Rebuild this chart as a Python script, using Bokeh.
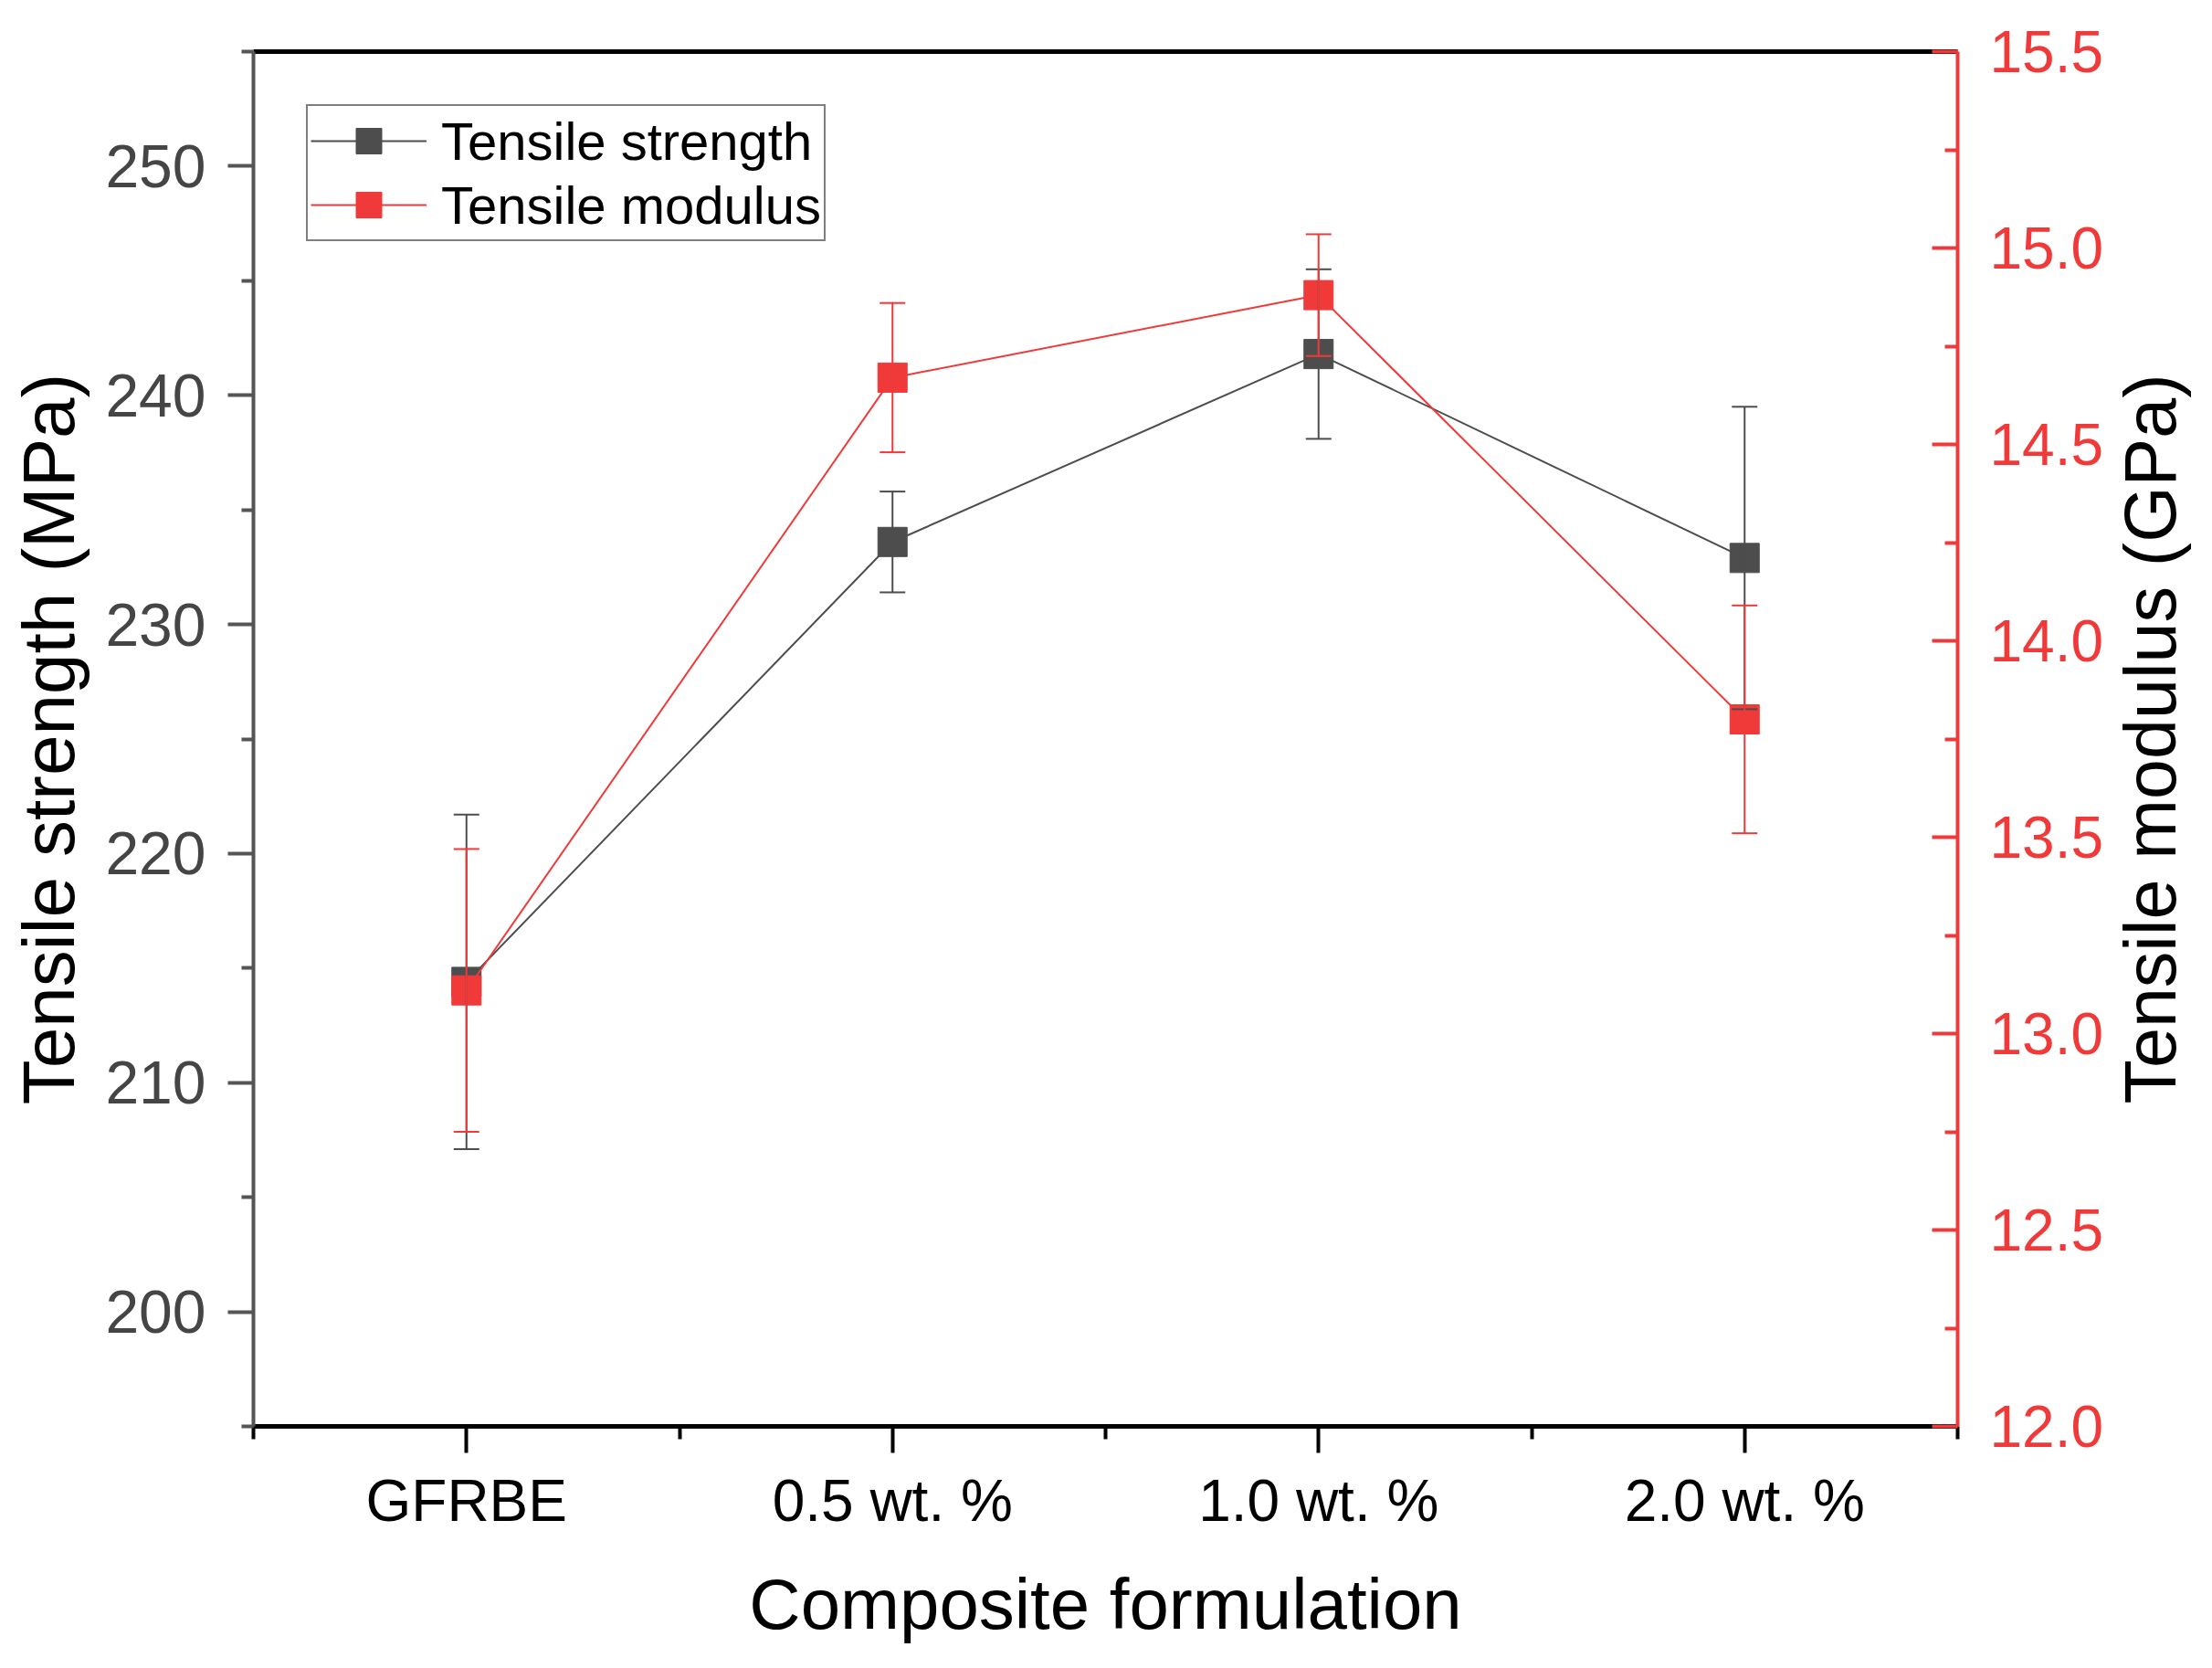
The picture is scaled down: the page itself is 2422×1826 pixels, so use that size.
from bokeh.plotting import figure
from bokeh.layouts import row
from bokeh.models import (ColumnDataSource, LinearAxis, Range1d, FixedTicker,
                          NumeralTickFormatter, Whisker, TeeHead)
from bokeh.embed import file_html
from bokeh.resources import INLINE

# data
formulations = ["GFRBE", "0.5 wt. %", "1.0 wt. %", "2.0 wt. %"]
strength = [214.4, 233.6, 241.8, 232.9]      # MPa
strength_err = [7.3, 2.2, 3.7, 6.6]
modulus = [13.11, 14.67, 14.88, 13.80]       # GPa
modulus_err = [0.36, 0.19, 0.155, 0.29]

left_ticks = [200, 210, 220, 230, 240, 250]
left_minor = [195, 205, 215, 225, 235, 245, 255]
right_ticks = [12.0, 12.5, 13.0, 13.5, 14.0, 14.5, 15.0, 15.5]
right_minor = [12.25, 12.75, 13.25, 13.75, 14.25, 14.75, 15.25]

FONT = "Liberation Sans"
GREY = "#4d4d4d"
RED = "#f03a3a"

H = 1810
W_MAIN, W_SIDE = 2306, 100
B_TOP, B_BOTTOM = 56, 249

xs = list(range(len(formulations)))
src = ColumnDataSource(data=dict(
    x=xs,
    s=strength,
    s_lo=[v - e for v, e in zip(strength, strength_err)],
    s_hi=[v + e for v, e in zip(strength, strength_err)],
    m=modulus,
    m_lo=[v - e for v, e in zip(modulus, modulus_err)],
    m_hi=[v + e for v, e in zip(modulus, modulus_err)],
))

p = figure(width=W_MAIN, height=H, output_backend="svg", toolbar_location=None,
           x_range=Range1d(-0.5, 3.5), y_range=Range1d(195, 255),
           min_border_left=277, min_border_right=163, min_border_top=B_TOP,
           min_border_bottom=B_BOTTOM)
p.extra_y_ranges = {"mod": Range1d(12.0, 15.5)}
p.xgrid.visible = False
p.ygrid.visible = False
p.outline_line_color = None

# series
p.line("x", "s", source=src, color=GREY, line_width=2, legend_label="Tensile strength")
p.scatter("x", "s", source=src, marker="square", size=32, color=GREY,
          legend_label="Tensile strength")
p.line("x", "m", source=src, color=RED, line_width=2, y_range_name="mod",
       legend_label="Tensile modulus")
p.scatter("x", "m", source=src, marker="square", size=32, color=RED,
          y_range_name="mod", legend_label="Tensile modulus")

# error bars
w1 = Whisker(base="x", lower="s_lo", upper="s_hi", source=src, line_color=GREY, line_width=2,
             upper_head=TeeHead(size=28, line_color=GREY, line_width=2),
             lower_head=TeeHead(size=28, line_color=GREY, line_width=2), level="annotation")
w2 = Whisker(base="x", lower="m_lo", upper="m_hi", source=src, line_color=RED, line_width=2,
             y_range_name="mod",
             upper_head=TeeHead(size=28, line_color=RED, line_width=2),
             lower_head=TeeHead(size=28, line_color=RED, line_width=2), level="annotation")
p.add_layout(w1)
p.add_layout(w2)

# bottom axis
xa = p.xaxis[0]
xa.ticker = FixedTicker(ticks=xs, minor_ticks=[-0.5, 0.5, 1.5, 2.5, 3.5])
xa.major_label_overrides = {i: f for i, f in zip(xs, formulations)}
xa.axis_label = "Composite formulation"
xa.axis_line_color = "black"
xa.axis_line_width = 5
xa.major_tick_line_color = "black"
xa.minor_tick_line_color = "black"
xa.major_tick_line_width = 4
xa.minor_tick_line_width = 4
xa.major_tick_out = 29
xa.major_tick_in = 0
xa.minor_tick_out = 14
xa.minor_tick_in = 0
xa.major_label_standoff = 16
xa.major_label_text_font = FONT
xa.major_label_text_font_size = "64px"
xa.major_label_text_color = "black"
xa.axis_label_standoff = 30
xa.axis_label_text_font = FONT
xa.axis_label_text_font_size = "78px"
xa.axis_label_text_font_style = "normal"
xa.axis_label_text_color = "black"

# left axis
ya = p.yaxis[0]
ya.ticker = FixedTicker(ticks=left_ticks, minor_ticks=left_minor)
ya.axis_label = "Tensile strength (MPa)"
ya.axis_line_color = "#555555"
ya.axis_line_width = 4
ya.major_tick_line_color = "#555555"
ya.minor_tick_line_color = "#555555"
ya.major_tick_line_width = 4
ya.minor_tick_line_width = 4
ya.major_tick_out = 28
ya.major_tick_in = 0
ya.minor_tick_out = 13
ya.minor_tick_in = 0
ya.major_label_standoff = 24
ya.major_label_text_font = FONT
ya.major_label_text_font_size = "66px"
ya.major_label_text_color = "#454545"
ya.axis_label_standoff = 14
ya.axis_label_text_font = FONT
ya.axis_label_text_font_size = "80px"
ya.axis_label_text_font_style = "normal"
ya.axis_label_text_color = "black"

# right axis
ra = LinearAxis(y_range_name="mod")
ra.ticker = FixedTicker(ticks=right_ticks, minor_ticks=right_minor)
ra.formatter = NumeralTickFormatter(format="0.0")
ra.axis_line_color = RED
ra.axis_line_width = 4
ra.major_tick_line_color = RED
ra.minor_tick_line_color = RED
ra.major_tick_line_width = 4
ra.minor_tick_line_width = 4
ra.major_tick_in = 28
ra.major_tick_out = 0
ra.minor_tick_in = 14
ra.minor_tick_out = 0
ra.major_label_standoff = 35
ra.major_label_text_font = FONT
ra.major_label_text_font_size = "64px"
ra.major_label_text_color = RED
p.add_layout(ra, "right")

# top frame line
ta = LinearAxis(ticker=FixedTicker(ticks=[]), axis_line_color="black", axis_line_width=5,
                major_tick_line_color=None, minor_tick_line_color=None)
p.add_layout(ta, "above")

# legend
lg = p.legend[0]
lg.location = "top_left"
lg.margin = 58
lg.padding = 3
lg.spacing = 0
lg.glyph_width = 127
lg.glyph_height = 70
lg.label_height = 70
lg.label_standoff = 16
lg.label_text_font = FONT
lg.label_text_font_size = "58px"
lg.label_text_color = "black"
lg.border_line_color = "black"
lg.border_line_width = 2
lg.background_fill_alpha = 1.0

# narrow strip on the right that carries the modulus title, read bottom to top
side = figure(width=W_SIDE, height=H, output_backend="svg", toolbar_location=None,
              x_range=Range1d(0, 1), y_range=Range1d(12.0, 15.5),
              min_border_left=W_SIDE - 2, min_border_right=0,
              min_border_top=B_TOP, min_border_bottom=B_BOTTOM)
side.xaxis.visible = False
side.grid.visible = False
side.outline_line_color = None
sa = side.yaxis[0]
sa.ticker = FixedTicker(ticks=[])
sa.axis_line_color = None
sa.major_tick_line_color = None
sa.minor_tick_line_color = None
sa.major_tick_out = 0
sa.major_label_standoff = 0
sa.axis_label = "Tensile modulus (GPa)"
sa.axis_label_standoff = 7
sa.axis_label_text_font = FONT
sa.axis_label_text_font_size = "79px"
sa.axis_label_text_font_style = "normal"
sa.axis_label_text_color = "black"

layout = row(p, side, spacing=0)

open("out.html", "w").write(file_html(layout, INLINE))
